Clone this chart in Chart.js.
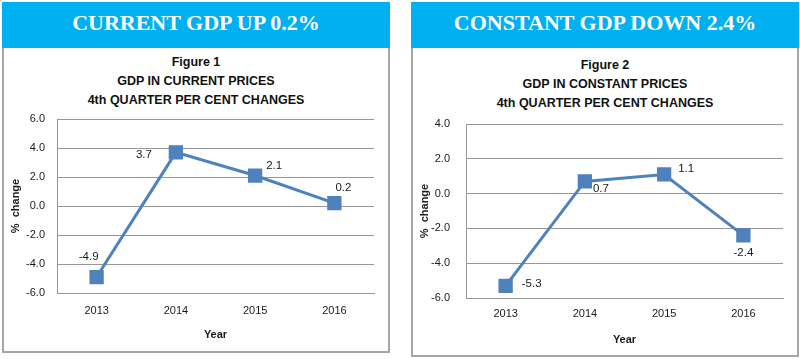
<!DOCTYPE html>
<html>
<head>
<meta charset="utf-8">
<script src="https://cdn.jsdelivr.net/npm/chart.js@4"></script>
<style>
  html, body { margin: 0; padding: 0; background: #fff; }
  body { width: 800px; height: 359px; position: relative; overflow: hidden; }
  .hdr {
    position: absolute; top: 2px; height: 46px; background: #00b0f0;
    color: #fff; font: bold 22px "Liberation Serif", "Times New Roman", serif;
    text-align: center; line-height: 41px;
  }
  .box {
    position: absolute; top: 48px; border: 2px solid #a6a6a6; border-top: none;
    box-sizing: border-box;
  }
  .ttl {
    position: absolute; text-align: center; color: #111;
    font: bold 12.5px "Liberation Sans", Arial, sans-serif; line-height: 19px;
  }
  canvas { position: absolute; }
</style>
</head>
<body>
<div class="hdr" style="left:2px;width:388px;">CURRENT GDP UP 0.2%</div>
<div class="hdr" style="left:411px;width:388px;">CONSTANT GDP DOWN 2.4%</div>
<div class="box" style="left:2px;width:388px;height:305px;"></div>
<div class="box" style="left:411px;width:388px;height:309px;"></div>
<div class="ttl" style="left:2px;width:388px;top:53px;">Figure 1<br>GDP IN CURRENT PRICES<br>4th QUARTER PER CENT CHANGES</div>
<div class="ttl" style="left:411px;width:388px;top:56px;">Figure 2<br>GDP IN CONSTANT PRICES<br>4th QUARTER PER CENT CHANGES</div>
<div style="position:absolute;left:4px;top:48px;width:384px;height:303px;"><canvas id="c1"></canvas></div>
<div style="position:absolute;left:413px;top:48px;width:384px;height:307px;"><canvas id="c2"></canvas></div>
<script>
// --- data ---
const years = ["2013", "2014", "2015", "2016"];
const currentGdp = [-4.9, 3.7, 2.1, 0.2];
const constantGdp = [-5.3, 0.7, 1.1, -2.4];
const currentTicks = { min: -6, max: 6, step: 2 };
const constantTicks = { min: -6, max: 4, step: 2 };

const LINE = "#4f81bd";
const GRID = "#979797";
const FONT = "'Liberation Sans', Arial, sans-serif";

// value labels next to each point, offsets in px
const pointLabels = {
  id: "pointLabels",
  afterDatasetsDraw(chart, args, opts) {
    const ctx = chart.ctx;
    const meta = chart.getDatasetMeta(0);
    const vals = chart.data.datasets[0].data;
    ctx.save();
    ctx.font = "11.5px " + FONT;
    ctx.fillStyle = "#1a1a1a";
    ctx.textAlign = "center";
    ctx.textBaseline = "middle";
    meta.data.forEach((pt, i) => {
      const off = opts.offsets[i];
      ctx.fillText(vals[i].toFixed(1), pt.x + off[0], pt.y + off[1]);
    });
    ctx.restore();
  },
};

function buildChart(id, values, range, cfg) {
  return new Chart(document.getElementById(id), {
    type: "line",
    data: {
      labels: years,
      datasets: [{
        data: values,
        borderColor: LINE,
        backgroundColor: LINE,
        borderWidth: 3,
        pointStyle: "rect",
        pointRadius: 8,
        pointHoverRadius: 8,
        tension: 0,
      }],
    },
    options: {
      responsive: true,
      maintainAspectRatio: false,
      animation: false,
      layout: { padding: { left: 0, right: 14, top: cfg.top, bottom: 0 } },
      scales: {
        x: {
          offset: true,
          grid: { display: false },
          border: { display: true, color: GRID, width: 1 },
          ticks: { color: "#1a1a1a", font: { family: FONT, size: 11 }, padding: cfg.xPad },
          title: { display: true, text: "Year", color: "#1a1a1a",
                   font: { family: FONT, size: 11, weight: "bold" },
                   padding: { top: 0, bottom: cfg.yearPad } },
          afterFit: (s) => { s.height = cfg.xH; },
        },
        y: {
          min: range.min,
          max: range.max,
          grid: { color: GRID, drawTicks: false },
          border: { display: true, color: GRID, width: 1 },
          ticks: { stepSize: range.step, color: "#1a1a1a", padding: cfg.yPad,
                   font: { family: FONT, size: 11 },
                   callback: (v) => Number(v).toFixed(1) },
          title: { display: true, text: "%  change", color: "#1a1a1a",
                   font: { family: FONT, size: 11, weight: "bold" },
                   padding: { top: 5, bottom: 0 } },
          afterFit: (s) => { s.width = 53; },
        },
      },
      plugins: {
        legend: { display: false },
        tooltip: { enabled: false },
        pointLabels: { offsets: cfg.offsets },
      },
    },
    plugins: [pointLabels],
  });
}

buildChart("c1", currentGdp, currentTicks, {
  top: 71, xH: 58, xPad: 3, yPad: 12, yearPad: 9,
  offsets: [[-8, -20], [-32, 2], [19, -10], [9, -15]],
});
buildChart("c2", constantGdp, constantTicks, {
  top: 76, xH: 57, xPad: 1, yPad: 16, yearPad: 8,
  offsets: [[26, -2], [16, 7], [22, -6], [0, 17]],
});
</script>
</body>
</html>
